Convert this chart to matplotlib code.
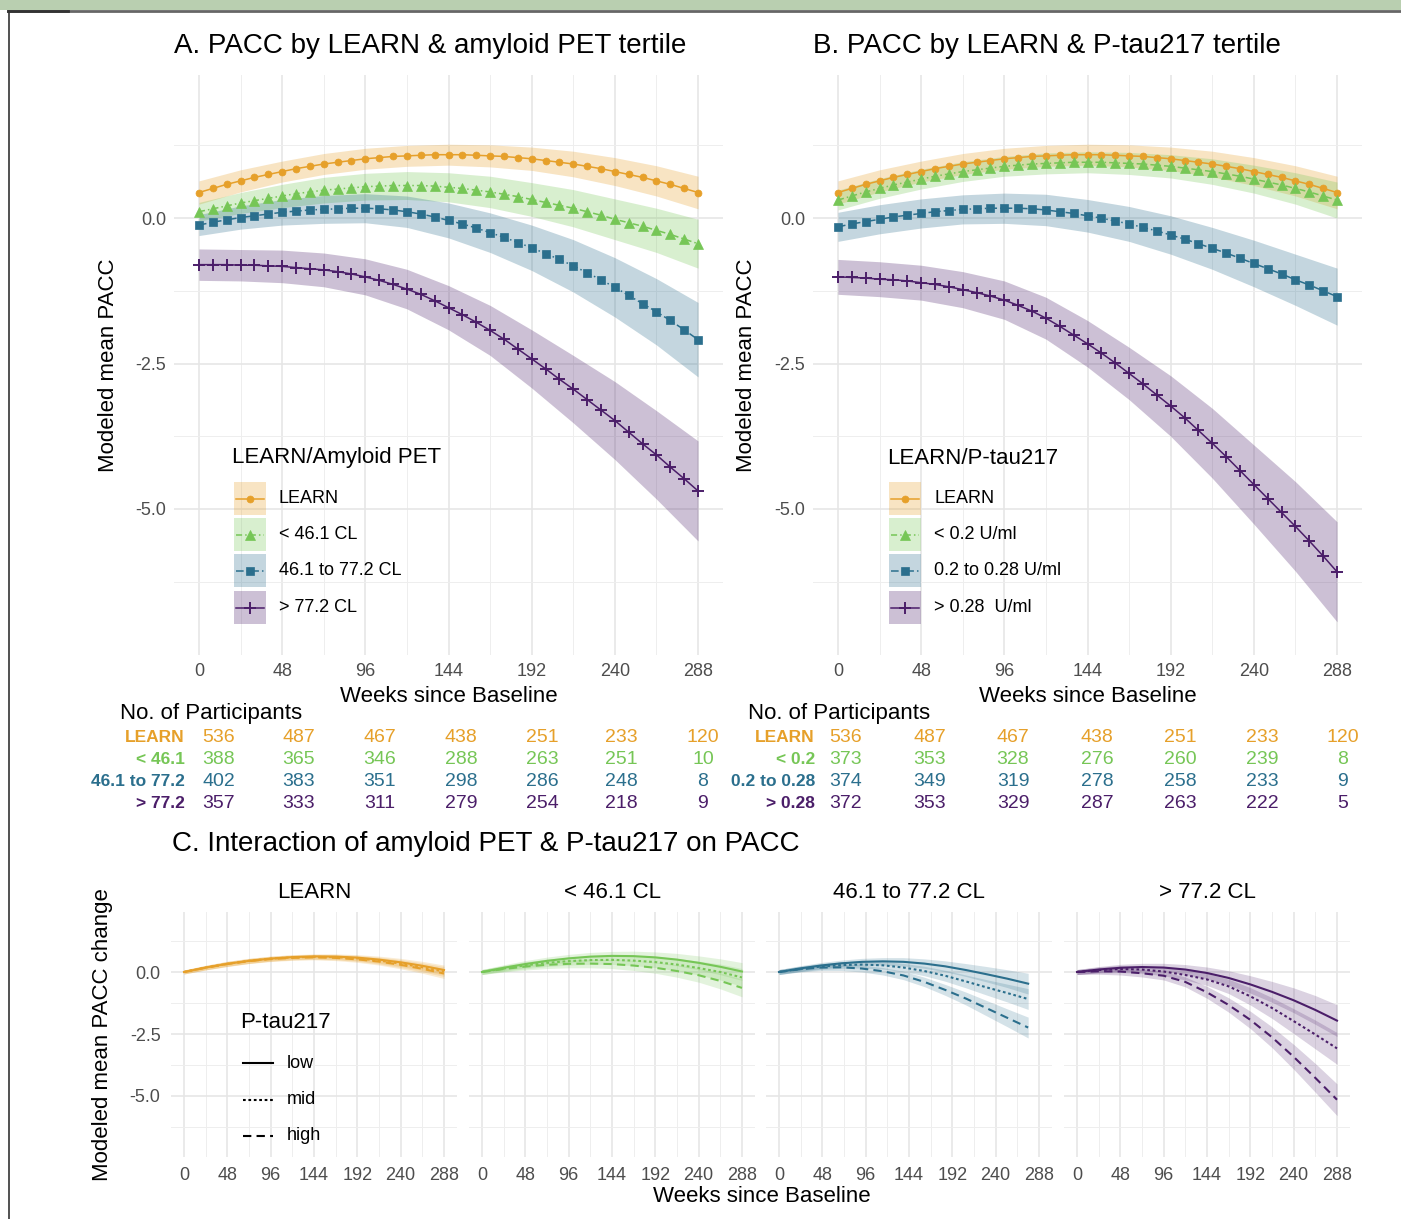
import numpy as np
import matplotlib.pyplot as plt
from matplotlib.patches import Rectangle

plt.rcParams['font.family'] = ['Liberation Sans', 'DejaVu Sans']

# ---- data ----
weeks = np.arange(0, 289, 8)        # marker positions
band_weeks = np.arange(0, 289, 24)  # ribbon positions
week_ticks = [0, 48, 96, 144, 192, 240, 288]

learn_mean = [0.44, 0.51, 0.58, 0.64, 0.70, 0.75, 0.80, 0.85, 0.89, 0.93, 0.96, 0.99, 1.02,
              1.04, 1.06, 1.07, 1.08, 1.09, 1.09, 1.09, 1.08, 1.07, 1.06, 1.04, 1.02, 0.99,
              0.96, 0.93, 0.89, 0.85, 0.80, 0.75, 0.70, 0.64, 0.58, 0.51, 0.44]
learn_hw = [0.20, 0.19, 0.18, 0.18, 0.18, 0.18, 0.18, 0.19, 0.20, 0.22, 0.24, 0.26, 0.28]

# A: amyloid PET tertiles
amy_low = [0.11, 0.16, 0.21, 0.26, 0.30, 0.34, 0.38, 0.42, 0.45, 0.48, 0.50, 0.52, 0.54,
           0.55, 0.56, 0.56, 0.56, 0.55, 0.53, 0.51, 0.48, 0.45, 0.41, 0.37, 0.32, 0.27,
           0.22, 0.17, 0.11, 0.05, -0.02, -0.08, -0.14, -0.21, -0.28, -0.36, -0.44]
amy_mid = [-0.12, -0.07, -0.03, 0.01, 0.04, 0.07, 0.10, 0.12, 0.14, 0.15, 0.16, 0.17, 0.17,
           0.16, 0.14, 0.11, 0.07, 0.02, -0.04, -0.10, -0.17, -0.25, -0.33, -0.42, -0.51,
           -0.61, -0.71, -0.82, -0.94, -1.06, -1.19, -1.33, -1.47, -1.61, -1.76, -1.92, -2.09]
amy_high = [-0.80, -0.80, -0.80, -0.81, -0.81, -0.82, -0.83, -0.85, -0.87, -0.89, -0.92,
            -0.96, -1.01, -1.07, -1.14, -1.22, -1.31, -1.42, -1.54, -1.66, -1.79, -1.93,
            -2.08, -2.25, -2.42, -2.59, -2.77, -2.94, -3.12, -3.30, -3.48, -3.68, -3.88,
            -4.07, -4.28, -4.48, -4.69]
amy_low_hw = [0.16, 0.18, 0.20, 0.22, 0.23, 0.24, 0.25, 0.27, 0.29, 0.32, 0.35, 0.38, 0.42]
amy_mid_hw = [0.18, 0.20, 0.22, 0.24, 0.25, 0.27, 0.30, 0.34, 0.39, 0.45, 0.51, 0.57, 0.64]
amy_high_hw = [0.27, 0.27, 0.28, 0.29, 0.31, 0.34, 0.38, 0.43, 0.50, 0.58, 0.67, 0.76, 0.86]

# B: P-tau217 tertiles
tau_low = [0.31, 0.38, 0.45, 0.51, 0.57, 0.62, 0.67, 0.72, 0.76, 0.80, 0.83, 0.86, 0.89,
           0.91, 0.93, 0.94, 0.95, 0.96, 0.96, 0.96, 0.95, 0.94, 0.93, 0.91, 0.89, 0.86,
           0.83, 0.80, 0.76, 0.72, 0.67, 0.62, 0.57, 0.51, 0.45, 0.38, 0.31]
tau_mid = [-0.15, -0.10, -0.06, -0.02, 0.02, 0.05, 0.08, 0.11, 0.13, 0.15, 0.16, 0.17, 0.17,
           0.17, 0.16, 0.14, 0.11, 0.08, 0.04, 0.00, -0.05, -0.10, -0.16, -0.22, -0.29,
           -0.36, -0.44, -0.52, -0.60, -0.69, -0.78, -0.87, -0.96, -1.06, -1.15, -1.25, -1.35]
tau_high = [-1.01, -1.02, -1.03, -1.05, -1.06, -1.08, -1.11, -1.14, -1.18, -1.23, -1.28,
            -1.34, -1.41, -1.50, -1.60, -1.72, -1.86, -2.01, -2.16, -2.32, -2.49, -2.67,
            -2.85, -3.04, -3.23, -3.43, -3.65, -3.87, -4.10, -4.34, -4.58, -4.82, -5.06,
            -5.30, -5.55, -5.81, -6.08]
tau_low_hw = [0.17, 0.17, 0.17, 0.17, 0.17, 0.18, 0.18, 0.19, 0.20, 0.22, 0.24, 0.27, 0.31]
tau_mid_hw = [0.25, 0.25, 0.25, 0.25, 0.26, 0.27, 0.28, 0.30, 0.33, 0.36, 0.40, 0.44, 0.49]
tau_high_hw = [0.30, 0.30, 0.30, 0.31, 0.33, 0.36, 0.40, 0.45, 0.52, 0.60, 0.68, 0.77, 0.86]

# C: change from baseline by amyloid group x P-tau217 (low / mid / high)
c_learn = [[0, 0.18, 0.33, 0.45, 0.54, 0.60, 0.63, 0.62, 0.58, 0.50, 0.39, 0.25, 0.08],
           [0, 0.18, 0.33, 0.45, 0.54, 0.59, 0.61, 0.60, 0.55, 0.46, 0.34, 0.19, 0.02],
           [0, 0.17, 0.32, 0.44, 0.52, 0.57, 0.59, 0.57, 0.51, 0.42, 0.29, 0.13, -0.06]]
c_amy_low = [[0, 0.17, 0.32, 0.45, 0.55, 0.62, 0.65, 0.64, 0.59, 0.50, 0.37, 0.21, 0.02],
             [0, 0.14, 0.27, 0.37, 0.44, 0.48, 0.49, 0.46, 0.40, 0.30, 0.16, 0.00, -0.22],
             [0, 0.12, 0.22, 0.29, 0.33, 0.34, 0.32, 0.26, 0.17, 0.04, -0.13, -0.36, -0.64]]
c_amy_mid = [[0, 0.14, 0.26, 0.35, 0.41, 0.43, 0.41, 0.34, 0.23, 0.08, -0.09, -0.27, -0.47],
             [0, 0.12, 0.22, 0.28, 0.30, 0.27, 0.18, 0.04, -0.15, -0.38, -0.62, -0.85, -1.09],
             [0, 0.11, 0.18, 0.19, 0.14, 0.03, -0.14, -0.40, -0.72, -1.07, -1.46, -1.85, -2.24]]
c_amy_high = [[0, 0.10, 0.17, 0.20, 0.18, 0.10, -0.04, -0.24, -0.50, -0.80, -1.14, -1.53, -1.96],
              [0, 0.08, 0.12, 0.10, 0.02, -0.12, -0.30, -0.58, -0.98, -1.45, -1.98, -2.52, -3.08],
              [0, 0.03, 0.02, -0.05, -0.15, -0.40, -0.82, -1.33, -1.93, -2.63, -3.42, -4.27, -5.15]]
c_learn_hw = [0.08, 0.09, 0.10, 0.10, 0.10, 0.10, 0.10, 0.11, 0.12, 0.14, 0.16, 0.18, 0.20]
c_amy_low_hw = [0.10, 0.12, 0.14, 0.15, 0.16, 0.17, 0.18, 0.20, 0.22, 0.25, 0.28, 0.32, 0.36]
c_amy_mid_hw = [0.10, 0.11, 0.12, 0.13, 0.14, 0.15, 0.17, 0.19, 0.22, 0.26, 0.31, 0.36, 0.42]
c_amy_high_hw = [0.10, 0.12, 0.14, 0.15, 0.17, 0.20, 0.24, 0.29, 0.35, 0.42, 0.50, 0.58, 0.64]
# the middle amyloid group's curves stop a little before week 288
c_weeks = [band_weeks, band_weeks, np.arange(0, 277, 23), band_weeks]

# participant counts at weeks 0, 48, ..., 288
n_learn = [536, 487, 467, 438, 251, 233, 120]
n_amy = [[388, 365, 346, 288, 263, 251, 10],
         [402, 383, 351, 298, 286, 248, 8],
         [357, 333, 311, 279, 254, 218, 9]]
n_tau = [[373, 353, 328, 276, 260, 239, 8],
         [374, 349, 319, 278, 258, 233, 9],
         [372, 353, 329, 287, 263, 222, 5]]

amy_labels = ['LEARN', '< 46.1 CL', '46.1 to 77.2 CL', '> 77.2 CL']
tau_labels = ['LEARN', '< 0.2 U/ml', '0.2 to 0.28 U/ml', '> 0.28  U/ml']
amy_rows = ['LEARN', '< 46.1', '46.1 to 77.2', '> 77.2']
tau_rows = ['LEARN', '< 0.2', '0.2 to 0.28', '> 0.28']
ptau_levels = ['low', 'mid', 'high']

colors = ['#e6a02a', '#76c656', '#2b6f8d', '#4b1e69']
markers = ['o', '^', 's', '+']
msizes = [5, 6.5, 5.5, 9]
lstyles = ['-', (0, (4, 2, 1, 2)), (0, (5, 2, 1, 2)), '-']
c_styles = ['-', (0, (1.3, 1.3)), (0, (4, 2.5))]

# ---- figure ----
W, H = 1401, 1219
fig = plt.figure(figsize=(W / 100, H / 100), dpi=100)


def panel(l, t, r, b):
    return fig.add_axes([l / W, 1 - b / H, (r - l) / W, (b - t) / H])


def style(ax, ylim, fs, pad, left=True):
    ax.set_xlim(-14.4, 302.4)
    ax.set_ylim(*ylim)
    ax.set_xticks(week_ticks)
    ax.set_xticks([24, 72, 120, 168, 216, 264], minor=True)
    ax.set_yticks([-5, -2.5, 0])
    ax.set_yticklabels(['-5.0', '-2.5', '0.0'])
    ax.set_yticks([-6.25, -3.75, -1.25, 1.25], minor=True)
    ax.grid(which='major', color='#e6e6e6', lw=1.2)
    ax.grid(which='minor', color='#eeeeee', lw=0.7)
    ax.tick_params(which='both', length=0, labelsize=fs, labelcolor='#4d4d4d', pad=pad,
                   labelleft=left)
    for s in ax.spines.values():
        s.set_visible(False)
    ax.set_axisbelow(True)


def draw_main(ax, means, hws):
    for m, hw, c in zip(means, hws, colors):
        m = np.array(m)
        hw = np.array(hw)
        ax.fill_between(band_weeks, m[::3] - hw, m[::3] + hw, color=c, alpha=0.28, lw=0)
    for m, c, mk, ms, ls in zip(means, colors, markers, msizes, lstyles):
        ax.plot(weeks, m, color=c, ls=ls, lw=1.1, marker=mk, ms=ms,
                mew=1.4 if mk == '+' else 0.5)


axA = panel(174, 75, 723, 655)
style(axA, (-7.51, 2.46), 13, 5.5)
draw_main(axA, [learn_mean, amy_low, amy_mid, amy_high],
          [learn_hw, amy_low_hw, amy_mid_hw, amy_high_hw])

axB = panel(813, 75, 1362, 655)
style(axB, (-7.51, 2.46), 13, 5.5)
draw_main(axB, [learn_mean, tau_low, tau_mid, tau_high],
          [learn_hw, tau_low_hw, tau_mid_hw, tau_high_hw])

facets = [c_learn, c_amy_low, c_amy_mid, c_amy_high]
facet_hw = [c_learn_hw, c_amy_low_hw, c_amy_mid_hw, c_amy_high_hw]
facet_left = [171, 469, 766, 1064]
for k, (lines, hw, c, wk) in enumerate(zip(facets, facet_hw, colors, c_weeks)):
    ax = panel(facet_left[k], 912, facet_left[k] + 286, 1157)
    style(ax, (-7.46, 2.42), 13, 7.5, left=(k == 0))
    for vals in lines:
        v = np.array(vals)
        ax.fill_between(wk, v - np.array(hw), v + np.array(hw), color=c, alpha=0.2, lw=0)
    for vals, ls in zip(lines, c_styles):
        ax.plot(wk, vals, color=c, ls=ls, lw=1.5)

# ---- overlay for titles, legends, tables, frame ----
ov = fig.add_axes([0, 0, 1, 1])
ov.set_xlim(0, W)
ov.set_ylim(H, 0)
ov.axis('off')

ov.add_patch(Rectangle((0, 0), W, 9.5, color='#b9cfb0', lw=0))
ov.plot([8, W], [10.5, 10.5], color='#666666', lw=2)
ov.plot([8, 68], [10.5, 10.5], color='#333333', lw=2)
ov.plot([8.5, 8.5], [10.5, H], color='#333333', lw=1.2)

ov.text(174, 46, 'A. PACC by LEARN & amyloid PET tertile', fontsize=20, va='center')
ov.text(813, 46, 'B. PACC by LEARN & P-tau217 tertile', fontsize=20, va='center')
ov.text(172, 844, 'C. Interaction of amyloid PET & P-tau217 on PACC', fontsize=20, va='center')

for x in (108, 746):
    ov.text(x, 365, 'Modeled mean PACC', fontsize=16, rotation=90, ha='center', va='center')
for x in (449, 1088):
    ov.text(x, 696, 'Weeks since Baseline', fontsize=16, ha='center', va='center')
ov.text(103, 1035, 'Modeled mean PACC change', fontsize=16, rotation=90, ha='center', va='center')
ov.text(762, 1197, 'Weeks since Baseline', fontsize=16, ha='center', va='center')

for k, lab in enumerate(amy_labels):
    ov.text(facet_left[k] + 143, 893, lab, fontsize=16, ha='center', va='center')


def legend(x0, title, labels):
    ov.text(x0, 458, title, fontsize=16, va='center')
    tops = [482, 518, 554, 591]
    for top, lab, c, mk, ms, ls in zip(tops, labels, colors, markers, msizes, lstyles):
        yc = top + 16.5
        ov.add_patch(Rectangle((x0 + 2, top), 32, 33, facecolor=c, alpha=0.28, lw=0))
        ov.plot([x0 + 4, x0 + 32], [yc, yc], color=c, ls=ls, lw=1.1)
        ov.plot([x0 + 18], [yc], color=c, marker=mk, ms=ms, mew=1.4 if mk == '+' else 0.5)
        ov.text(x0 + 47, yc, lab, fontsize=13, va='center')


legend(232, 'LEARN/Amyloid PET', amy_labels)
legend(887, 'LEARN/P-tau217', tau_labels)

ov.text(240, 1022, 'P-tau217', fontsize=16, va='center')
for i, (lab, ls) in enumerate(zip(ptau_levels, c_styles)):
    y = 1063 + 36.5 * i
    ov.plot([243, 273], [y, y], color='black', ls=ls, lw=1.5)
    ov.text(287, y, lab, fontsize=13, va='center')


def table(x_title, x_lab, cols, row_labels, counts):
    ov.text(x_title, 713, 'No. of Participants', fontsize=16, va='center')
    for r, (lab, vals, c) in enumerate(zip(row_labels, counts, colors)):
        y = 737 + 22 * r
        ov.text(x_lab, y, lab, fontsize=12.5, fontweight='bold', color=c, ha='right', va='center')
        for x, v in zip(cols, vals):
            ov.text(x, y, str(v), fontsize=14, color=c, ha='center', va='center')


table(120, 185, [219, 299, 380, 461, 542, 621, 703], amy_rows, [n_learn] + n_amy)
table(748, 815, [846, 930, 1013, 1097, 1180, 1262, 1343], tau_rows, [n_learn] + n_tau)

fig.savefig('out.png', dpi=100)
